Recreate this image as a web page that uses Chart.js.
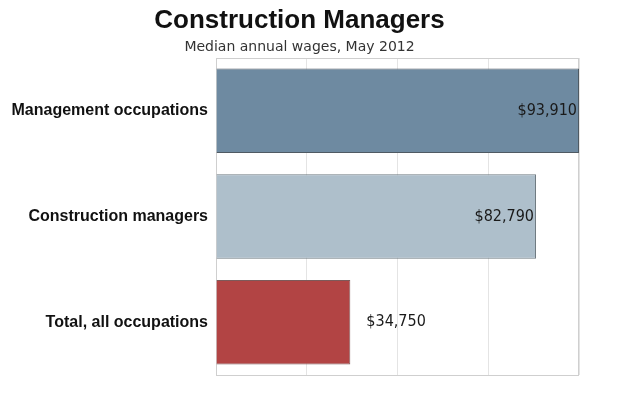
<!DOCTYPE html>
<html>
<head>
<meta charset="utf-8">
<script src="https://cdn.jsdelivr.net/npm/chart.js@4.4.1/dist/chart.umd.min.js"></script>
<style>
  html, body { margin: 0; padding: 0; background: #fff; }
  #wrap { width: 599px; height: 410px; }
</style>
</head>
<body>
<div id="wrap"><canvas id="chart"></canvas></div>
<script>
const categories = ["Management occupations", "Construction managers", "Total, all occupations"];
const wages = [93910, 82790, 34750];
const wageLabels = ["$93,910", "$82,790", "$34,750"];
const barColors = ["#6e8aa1", "#aebfcb", "#b24444"];
const barBorders = ["#4f5a63", "#6f7a82", "#7d5a5a"];

// light frame around the plot area
const framePlugin = {
    id: "frame",
    beforeDatasetsDraw(chart) {
        const a = chart.chartArea;
        const ctx = chart.ctx;
        ctx.save();
        ctx.strokeStyle = "#cfcfcf";
        ctx.lineWidth = 1;
        ctx.strokeRect(a.left + 0.5, a.top + 0.5, a.right - a.left - 1, a.bottom - a.top);
        ctx.restore();
    }
};

// wage labels, inside the bar when it is long enough
const valueLabels = {
    id: "valueLabels",
    afterDatasetsDraw(chart) {
        const ctx = chart.ctx;
        const meta = chart.getDatasetMeta(0);
        ctx.save();
        ctx.font = "16px 'DejaVu Sans Condensed', 'DejaVu Sans', sans-serif";
        ctx.fillStyle = "#1a1a1a";
        ctx.textBaseline = "middle";
        meta.data.forEach((bar, i) => {
            const width = bar.x - bar.base;
            if (width > 200) {
                ctx.textAlign = "right";
                ctx.fillText(wageLabels[i], bar.x - 2, bar.y);
            } else {
                ctx.textAlign = "left";
                ctx.fillText(wageLabels[i], bar.x + 16, bar.y);
            }
        });
        ctx.restore();
    }
};

new Chart(document.getElementById("chart"), {
    type: "bar",
    data: {
        labels: categories,
        datasets: [{
            data: wages,
            backgroundColor: barColors,
            borderColor: barBorders,
            borderWidth: 1,
            barPercentage: 0.8,
            categoryPercentage: 1
        }]
    },
    options: {
        indexAxis: "y",
        responsive: true,
        maintainAspectRatio: false,
        animation: false,
        layout: { padding: { left: 0, right: 0, top: 0, bottom: 35 } },
        plugins: {
            legend: { display: false },
            tooltip: { enabled: false },
            title: {
                display: true,
                text: "Construction Managers",
                color: "#111",
                font: { family: "'Liberation Sans', Arial, sans-serif", size: 26, weight: "bold" },
                padding: { top: 5, bottom: 3 }
            },
            subtitle: {
                display: true,
                text: "Median annual wages, May 2012",
                color: "#333",
                font: { family: "'DejaVu Sans', sans-serif", size: 14 },
                padding: { top: 0, bottom: 2 }
            }
        },
        scales: {
            x: {
                min: 0,
                max: 93910,
                ticks: { display: false, stepSize: 23478 },
                grid: { color: "#e4e4e4", drawTicks: false },
                border: { display: false }
            },
            y: {
                grid: { display: false, drawTicks: false },
                border: { display: false },
                afterFit(scale) { scale.width = 216; },
                ticks: {
                    color: "#111",
                    padding: 8,
                    font: { family: "'Liberation Sans', Arial, sans-serif", size: 16, weight: "bold" }
                }
            },
            // empty gutter on the right so the titles stay centred on the page
            gutter: {
                type: "linear",
                axis: "y",
                position: "right",
                display: true,
                grid: { display: false, drawTicks: false },
                border: { display: false },
                ticks: { display: false },
                afterFit(scale) { scale.width = 20; }
            }
        }
    },
    plugins: [framePlugin, valueLabels]
});
</script>
</body>
</html>
